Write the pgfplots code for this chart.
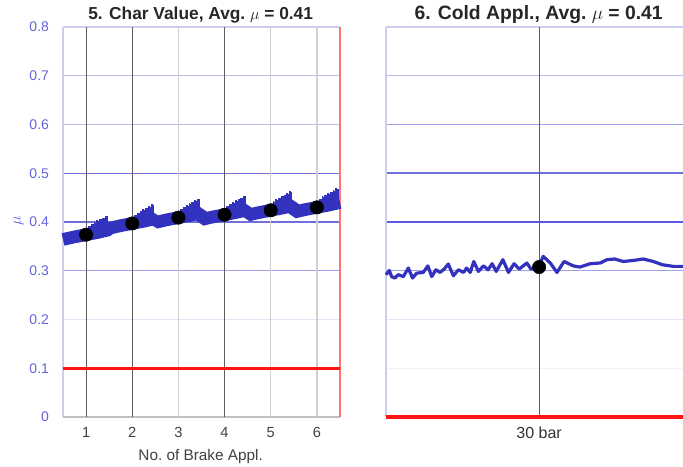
\documentclass[border=0pt]{standalone}
\usepackage{pgfplots}
\pgfplotsset{compat=1.18}
\usepackage{fontspec}
\setmainfont{Liberation Sans}

\definecolor{band}{RGB}{50,50,190}
\definecolor{ticklbl}{RGB}{100,100,220}
\definecolor{gstrong}{RGB}{112,112,221}
\definecolor{gmid}{RGB}{160,160,232}
\definecolor{glight}{RGB}{185,185,238}
\definecolor{gfaint}{RGB}{228,228,246}
\definecolor{vdark}{RGB}{95,95,95}
\definecolor{vlight}{RGB}{208,208,208}
\definecolor{frm}{RGB}{205,205,238}
\definecolor{redline}{RGB}{255,20,20}

\begin{document}
\begin{tikzpicture}
\useasboundingbox (0,0) rectangle (512.25pt,350.25pt);

% ---- panel 5
\begin{axis}[
  at={(47.25pt,37.5pt)}, anchor=south west,
  scale only axis, width=207.75pt, height=292.5pt,
  xmin=0.5, xmax=6.5, ymin=0, ymax=0.8,
  xtick={1,2,3,4,5,6},
  ytick={0,0.1,0.2,0.3,0.4,0.5,0.6,0.7,0.8},
  major tick length=0,
  axis line style={draw=none},
  clip=false,
  /pgf/number format/assume math mode=true,
  yticklabel style={font=\fontsize{10.5}{12}\selectfont, text=ticklbl, xshift=-7pt,
    /pgf/number format/fixed, /pgf/number format/precision=1},
  xticklabel style={font=\fontsize{11}{13}\selectfont, text=black!75, yshift=-4pt},
]
% grid
\draw[glight, line width=1pt] (axis cs:0.5,0.7) -- (axis cs:6.5,0.7);
\draw[glight, line width=1pt] (axis cs:0.5,0.6) -- (axis cs:6.5,0.6);
\draw[gstrong, line width=1.1pt] (axis cs:0.5,0.5) -- (axis cs:6.5,0.5);
\draw[gstrong, line width=1.1pt] (axis cs:0.5,0.4) -- (axis cs:6.5,0.4);
\draw[gmid, line width=0.8pt] (axis cs:0.5,0.3) -- (axis cs:6.5,0.3);
\draw[gfaint, line width=1pt] (axis cs:0.5,0.2) -- (axis cs:6.5,0.2);
\draw[frm, line width=1pt] (axis cs:0.5,0.8) -- (axis cs:6.5,0.8);
\draw[frm, line width=1pt] (axis cs:0.5,0) -- (axis cs:0.5,0.8);
\draw[black!25, line width=1pt] (axis cs:0.5,0) -- (axis cs:6.5,0);
\foreach \v in {3,5,6} {\edef\temp{\noexpand\draw[vlight, line width=1.1pt] (axis cs:\v,0) -- (axis cs:\v,0.8);}\temp}
\foreach \v in {1,2,4} {\edef\temp{\noexpand\draw[vdark, line width=0.8pt] (axis cs:\v,0) -- (axis cs:\v,0.8);}\temp}
\draw[red!55, line width=0.8pt] (axis cs:6.5,0) -- (axis cs:6.5,0.8);
\draw[redline, line width=2.3pt] (axis cs:0.5,0.1) -- (axis cs:6.5,0.1);

% friction band (solid part)
\addplot[band, line width=9.5pt, line join=bevel, line cap=butt] coordinates {
(0.50,0.3642) (0.75,0.3695) (1,0.374) (1.25,0.3785) (1.49,0.3838)
(1.51,0.3872) (1.75,0.3925) (2,0.397) (2.25,0.4015) (2.49,0.4068)
(2.51,0.3992) (2.75,0.4045) (3,0.409) (3.25,0.4135) (3.49,0.4188)
(3.51,0.4052) (3.75,0.4105) (4,0.415) (4.25,0.4195) (4.49,0.4248)
(4.51,0.4142) (4.75,0.4195) (5,0.424) (5.25,0.4285) (5.49,0.4338)
(5.51,0.4202) (5.75,0.4255) (6,0.430) (6.25,0.4345) (6.50,0.4400)
};
% oscillation teeth at the end of each application (bar from y up by the error)
\addplot[draw=none, mark=none, forget plot,
  error bars/.cd, y dir=plus, y explicit, error mark=none,
  error bar style={band, line width=1.3pt}] coordinates {
(1.06,0.3832) +- (0,0.0090) (1.09,0.3838) +- (0,0.0080) (1.12,0.3844) +- (0,0.0120) (1.15,0.3850) +- (0,0.0110)
(1.18,0.3856) +- (0,0.0140) (1.21,0.3862) +- (0,0.0125) (1.24,0.3868) +- (0,0.0165) (1.27,0.3874) +- (0,0.0150)
(1.30,0.3880) +- (0,0.0180) (1.33,0.3886) +- (0,0.0170) (1.36,0.3892) +- (0,0.0200) (1.39,0.3898) +- (0,0.0185)
(1.42,0.3904) +- (0,0.0225) (1.45,0.3910) +- (0,0.0210)
(2.06,0.4062) +- (0,0.0090) (2.09,0.4068) +- (0,0.0080) (2.12,0.4074) +- (0,0.0120) (2.15,0.4080) +- (0,0.0110)
(2.18,0.4086) +- (0,0.0140) (2.21,0.4092) +- (0,0.0125) (2.24,0.4098) +- (0,0.0165) (2.27,0.4104) +- (0,0.0150)
(2.30,0.4110) +- (0,0.0180) (2.33,0.4116) +- (0,0.0170) (2.36,0.4122) +- (0,0.0200) (2.39,0.4128) +- (0,0.0185)
(2.42,0.4134) +- (0,0.0225) (2.45,0.4140) +- (0,0.0210)
(3.06,0.4182) +- (0,0.0090) (3.09,0.4188) +- (0,0.0080) (3.12,0.4194) +- (0,0.0120) (3.15,0.4200) +- (0,0.0110)
(3.18,0.4206) +- (0,0.0140) (3.21,0.4212) +- (0,0.0125) (3.24,0.4218) +- (0,0.0165) (3.27,0.4224) +- (0,0.0150)
(3.30,0.4230) +- (0,0.0180) (3.33,0.4236) +- (0,0.0170) (3.36,0.4242) +- (0,0.0200) (3.39,0.4248) +- (0,0.0185)
(3.42,0.4254) +- (0,0.0225) (3.45,0.4260) +- (0,0.0210)
(4.06,0.4242) +- (0,0.0090) (4.09,0.4248) +- (0,0.0080) (4.12,0.4254) +- (0,0.0120) (4.15,0.4260) +- (0,0.0110)
(4.18,0.4266) +- (0,0.0140) (4.21,0.4272) +- (0,0.0125) (4.24,0.4278) +- (0,0.0165) (4.27,0.4284) +- (0,0.0150)
(4.30,0.4290) +- (0,0.0180) (4.33,0.4296) +- (0,0.0170) (4.36,0.4302) +- (0,0.0200) (4.39,0.4308) +- (0,0.0185)
(4.42,0.4314) +- (0,0.0225) (4.45,0.4320) +- (0,0.0210)
(5.06,0.4332) +- (0,0.0090) (5.09,0.4338) +- (0,0.0080) (5.12,0.4344) +- (0,0.0120) (5.15,0.4350) +- (0,0.0110)
(5.18,0.4356) +- (0,0.0140) (5.21,0.4362) +- (0,0.0125) (5.24,0.4368) +- (0,0.0165) (5.27,0.4374) +- (0,0.0150)
(5.30,0.4380) +- (0,0.0180) (5.33,0.4386) +- (0,0.0170) (5.36,0.4392) +- (0,0.0200) (5.39,0.4398) +- (0,0.0185)
(5.42,0.4404) +- (0,0.0225) (5.45,0.4410) +- (0,0.0210)
(6.06,0.4392) +- (0,0.0090) (6.09,0.4398) +- (0,0.0080) (6.12,0.4404) +- (0,0.0120) (6.15,0.4410) +- (0,0.0110)
(6.18,0.4416) +- (0,0.0140) (6.21,0.4422) +- (0,0.0125) (6.24,0.4428) +- (0,0.0165) (6.27,0.4434) +- (0,0.0150)
(6.30,0.4440) +- (0,0.0180) (6.33,0.4446) +- (0,0.0170) (6.36,0.4452) +- (0,0.0200) (6.39,0.4458) +- (0,0.0185)
(6.42,0.4464) +- (0,0.0225) (6.45,0.4470) +- (0,0.0210)
};
\addplot[only marks, mark=*, mark size=5pt, black] coordinates {
(1,0.374) (2,0.397) (3,0.409) (4,0.415) (5,0.424) (6,0.430)
};
\end{axis}

% ---- panel 6
\begin{axis}[
  at={(289.5pt,37.5pt)}, anchor=south west,
  scale only axis, width=222.75pt, height=292.5pt,
  xmin=0, xmax=58.2, ymin=0, ymax=0.8,
  xtick={30}, xticklabels={30 bar}, ytick=\empty,
  major tick length=0,
  axis line style={draw=none},
  clip=false,
  xticklabel style={font=\fontsize{12}{14}\selectfont, text=black!80, yshift=-4pt},
]
\draw[frm, line width=1pt] (axis cs:0,0.8) -- (axis cs:58.2,0.8);
\draw[glight, line width=1pt] (axis cs:0,0.7) -- (axis cs:58.2,0.7);
\draw[gmid, line width=1pt] (axis cs:0,0.6) -- (axis cs:58.2,0.6);
\draw[gstrong, line width=1.3pt] (axis cs:0,0.5) -- (axis cs:58.2,0.5);
\draw[gstrong!80!blue, line width=1.1pt] (axis cs:0,0.4) -- (axis cs:58.2,0.4);
\draw[gmid, line width=1pt] (axis cs:0,0.3) -- (axis cs:58.2,0.3);
\draw[gfaint, line width=1pt] (axis cs:0,0.2) -- (axis cs:58.2,0.2);
\draw[gfaint!50, line width=1pt] (axis cs:0,0.1) -- (axis cs:58.2,0.1);
\draw[frm, line width=1.5pt] (axis cs:0,0) -- (axis cs:0,0.8);
\draw[vdark, line width=0.8pt] (axis cs:30,0) -- (axis cs:30,0.8);
\draw[redline, line width=2.3pt] (axis cs:0,0) -- (axis cs:58.2,0);

\addplot[band, line width=2.4pt, line join=round] coordinates {
(0,0.2918) (0.65,0.3007) (1.1,0.288) (1.76,0.285) (2.4,0.292) (3.4,0.288)
(4.37,0.3055) (5.2,0.285) (6.0,0.295) (7.3,0.2966) (8.2,0.310) (8.96,0.288)
(9.8,0.302) (10.6,0.2966) (11.4,0.3035) (12.2,0.3138) (13.2,0.2897) (14.2,0.302)
(15.2,0.2966) (15.8,0.3055) (16.5,0.2966) (17.2,0.319) (18.1,0.2986) (19.1,0.310)
(20.0,0.302) (20.8,0.3144) (21.6,0.2986) (22.9,0.3227) (24.0,0.2966) (25.1,0.3144)
(26.1,0.3035) (27.6,0.3158) (28.4,0.3035) (29.9,0.3076) (30.8,0.3296) (32.2,0.3158)
(33.5,0.2966) (34.9,0.319) (36.7,0.310) (38.0,0.3076) (40.0,0.3144) (42.0,0.316)
(43.3,0.3227) (44.8,0.3241) (46.5,0.319) (48.5,0.3212) (50.4,0.3241) (52.4,0.319)
(54.1,0.3124) (56.3,0.309) (58.2,0.309)
};
\addplot[only marks, mark=*, mark size=5pt, black] coordinates {(30,0.3076)};
\end{axis}

% titles and labels
\node[font=\bfseries\fontsize{13}{15}\selectfont, text=black!85] at (150.5pt,339pt) {5. Char Value, Avg.\ $\mu$ = 0.41};
\node[font=\bfseries\fontsize{14.5}{16}\selectfont, text=black!85] at (404pt,339pt) {6. Cold Appl., Avg.\ $\mu$ = 0.41};
\node[font=\fontsize{11.5}{13}\selectfont, text=black!75] at (150.5pt,7.5pt) {No.\ of Brake Appl.};
\node[rotate=90, text=ticklbl, font=\fontsize{12}{14}\selectfont] at (14pt,184.5pt) {$\mu$};
\end{tikzpicture}
\end{document}
